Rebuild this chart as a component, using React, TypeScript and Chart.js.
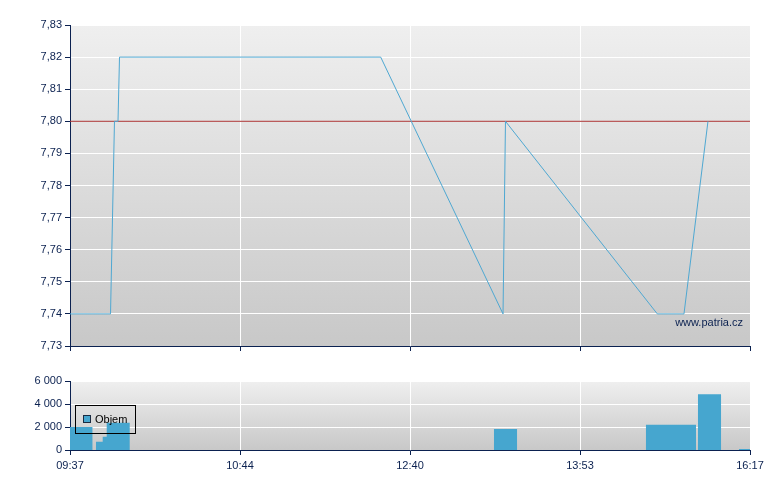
import React, { useEffect, useRef } from "react";
import { Chart, registerables } from "chart.js";
Chart.register(...registerables);

// x axis runs on an index scale 0..100, labelled by these tick labels
const timeLabels = ["09:37", "10:44", "12:40", "13:53", "16:17"];
const tickPositions = [0, 25, 50, 75, 100];

// price series
const priceX = [0, 5.96, 6.54, 7.06, 7.28, 45.69, 63.68, 64.04, 86.37, 90.29, 93.82];
const priceY = [7.74, 7.74, 7.8, 7.8, 7.82, 7.82, 7.74, 7.8, 7.74, 7.74, 7.8];
const refPrice = 7.8;

// volume bars (start, end on index scale; value)
const volStart = [0, 3.82, 4.81, 5.4, 62.35, 84.7, 92.35, 98.38];
const volEnd = [3.3, 4.81, 5.4, 8.78, 65.74, 92.06, 95.74, 100];
const volValue = [2000, 720, 1150, 2360, 1820, 2190, 4850, 80];

const NAVY = "#0b2150";
const FONT = "Arial, 'Liberation Sans', sans-serif";

const bgPlugin = {
  id: "bgGrad",
  beforeDraw(chart: any) {
    const { ctx, chartArea } = chart;
    if (!chartArea) return;
    const g = ctx.createLinearGradient(0, chartArea.top, 0, chartArea.bottom);
    g.addColorStop(0, "#efefef");
    g.addColorStop(1, "#c8c8c8");
    ctx.save();
    ctx.fillStyle = g;
    ctx.fillRect(chartArea.left, chartArea.top, chartArea.right - chartArea.left, chartArea.bottom - chartArea.top);
    ctx.restore();
  },
};

const watermarkPlugin = {
  id: "watermark",
  afterDatasetsDraw(chart: any) {
    const { ctx, chartArea } = chart;
    ctx.save();
    ctx.font = `11px ${FONT}`;
    ctx.fillStyle = NAVY;
    ctx.textAlign = "right";
    ctx.textBaseline = "middle";
    ctx.fillText("www.patria.cz", chartArea.right - 7, chartArea.bottom - 23);
    ctx.restore();
  },
};

const legendPlugin = {
  id: "boxLegend",
  afterDraw(chart: any) {
    const { ctx, chartArea } = chart;
    const x = chartArea.left + 5;
    const y = chartArea.top + 24;
    ctx.save();
    ctx.strokeStyle = "#000";
    ctx.lineWidth = 1;
    ctx.strokeRect(x + 0.5, y + 0.5, 60, 28);
    ctx.fillStyle = "#46a6cf";
    ctx.fillRect(x + 8, y + 10, 8, 8);
    ctx.strokeStyle = "#1a2a40";
    ctx.strokeRect(x + 8.5, y + 10.5, 7, 7);
    ctx.fillStyle = "#000";
    ctx.font = `11px ${FONT}`;
    ctx.textAlign = "left";
    ctx.textBaseline = "middle";
    ctx.fillText("Objem", x + 20, y + 15);
    ctx.restore();
  },
};

function fmtThousands(v: number) {
  return String(v).replace(/\B(?=(\d{3})+(?!\d))/g, " ");
}

function tickLabel(v: number) {
  const i = tickPositions.indexOf(v);
  return i >= 0 ? timeLabels[i] : "";
}

export default function App() {
  const topRef = useRef<HTMLCanvasElement>(null);
  const botRef = useRef<HTMLCanvasElement>(null);

  useEffect(() => {
    const pricePts = priceX.map((x, i) => ({ x, y: priceY[i] }));
    const refPts = [
      { x: 0, y: refPrice },
      { x: 100, y: refPrice },
    ];
    const volPts: { x: number; y: number }[] = [];
    volStart.forEach((s, i) => {
      volPts.push({ x: s, y: 0 }, { x: s, y: volValue[i] }, { x: volEnd[i], y: volValue[i] }, { x: volEnd[i], y: 0 });
    });

    const xCommon = (showLabels: boolean, h: number) => ({
      type: "linear" as const,
      min: 0,
      max: 100,
      afterBuildTicks: (s: any) => {
        s.ticks = tickPositions.map((v) => ({ value: v }));
      },
      afterFit: (s: any) => {
        s.height = h;
      },
      grid: { color: "#ffffff", lineWidth: 1, tickColor: NAVY, tickLength: 5, drawTicks: true },
      border: { color: NAVY, width: 1 },
      ticks: {
        display: showLabels,
        color: NAVY,
        font: { family: FONT, size: 11 },
        padding: 4,
        maxRotation: 0,
        autoSkip: false,
        callback: (v: any) => tickLabel(Number(v)),
      },
    });

    const top = new Chart(topRef.current!, {
      type: "line",
      data: {
        datasets: [
          { data: pricePts, borderColor: "#4fa8d2", borderWidth: 1, pointRadius: 0, tension: 0, fill: false },
          { data: refPts, borderColor: "#a83030", borderWidth: 1, pointRadius: 0, tension: 0, fill: false },
        ],
      },
      options: {
        animation: false,
        responsive: false,
        layout: { padding: { left: 0, right: 30, top: 25, bottom: 0 } },
        plugins: { legend: { display: false }, tooltip: { enabled: false } },
        scales: {
          x: xCommon(false, 14),
          y: {
            min: 7.73,
            max: 7.83,
            afterFit: (s: any) => {
              s.width = 70;
            },
            afterBuildTicks: (s: any) => {
              const t = [];
              for (let i = 0; i <= 10; i++) t.push({ value: Math.round((7.73 + i * 0.01) * 100) / 100 });
              s.ticks = t;
            },
            grid: { color: "#ffffff", tickColor: NAVY, tickLength: 5 },
            border: { color: NAVY, width: 1 },
            ticks: {
              color: NAVY,
              font: { family: FONT, size: 11 },
              padding: 3,
              callback: (v: any) => Number(v).toFixed(2).replace(".", ","),
            },
          },
        },
      },
      plugins: [bgPlugin, watermarkPlugin],
    });

    const bot = new Chart(botRef.current!, {
      type: "line",
      data: {
        datasets: [
          {
            data: volPts,
            borderColor: "rgba(0,0,0,0)",
            borderWidth: 0,
            backgroundColor: "#46a6cf",
            pointRadius: 0,
            tension: 0,
            fill: "origin",
          },
        ],
      },
      options: {
        animation: false,
        responsive: false,
        layout: { padding: { left: 0, right: 30, top: 21, bottom: 0 } },
        plugins: { legend: { display: false }, tooltip: { enabled: false } },
        scales: {
          x: xCommon(true, 40),
          y: {
            min: 0,
            max: 6000,
            afterFit: (s: any) => {
              s.width = 70;
            },
            afterBuildTicks: (s: any) => {
              s.ticks = [0, 2000, 4000, 6000].map((v) => ({ value: v }));
            },
            grid: { color: "#ffffff", tickColor: NAVY, tickLength: 5 },
            border: { color: NAVY, width: 1 },
            ticks: {
              color: NAVY,
              font: { family: FONT, size: 11 },
              padding: 3,
              callback: (v: any) => fmtThousands(Number(v)),
            },
          },
        },
      },
      plugins: [bgPlugin, legendPlugin],
    });

    return () => {
      top.destroy();
      bot.destroy();
    };
  }, []);

  return (
    <div style={{ position: "fixed", left: 0, top: 0, width: 780, height: 490, background: "#fff" }}>
      <canvas ref={topRef} width={780} height={360} style={{ position: "absolute", left: 0, top: 0, width: 780, height: 360 }} />
      <canvas ref={botRef} width={780} height={130} style={{ position: "absolute", left: 0, top: 360, width: 780, height: 130 }} />
    </div>
  );
}
